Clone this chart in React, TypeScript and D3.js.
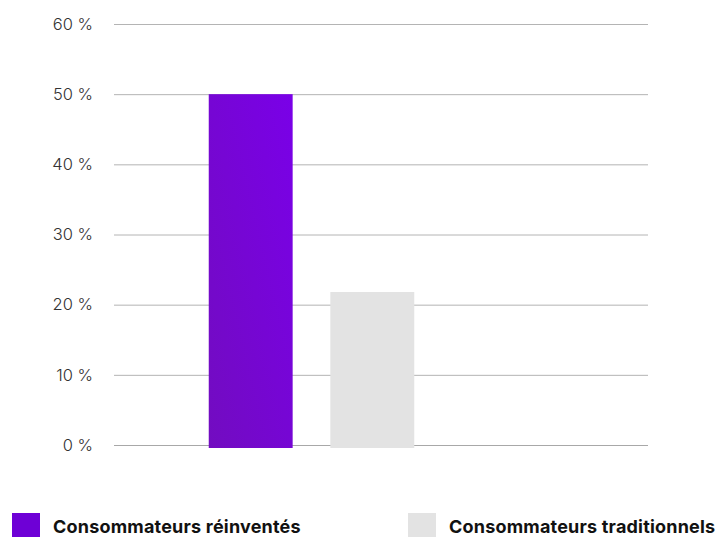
import React from "react";
import * as d3 from "d3";

const categories = ["Consommateurs réinventés", "Consommateurs traditionnels"];
const values = [50, 21.8];
const colors = ["url(#purpleGrad)", "#e3e3e3"];
const legendColors = ["#6e00d6", "#e3e3e3"];
const ticks = [0, 10, 20, 30, 40, 50, 60];

export default function App() {
  const W = 722, H = 537;
  const y = d3.scaleLinear().domain([0, 60]).range([445, 24]);
  const x = d3.scaleBand().domain(categories).range([190.5, 432.5]).paddingInner(0.31).paddingOuter(0.15);
  const font = "Inter, 'Noto Sans', sans-serif";
  return (
    <svg width={W} height={H} style={{ position: "absolute", left: 0, top: 0 }}>
      <defs>
        <linearGradient id="purpleGrad" x1="0" y1="1" x2="1" y2="0">
          <stop offset="0%" stopColor="#720cc0" />
          <stop offset="100%" stopColor="#7a00e8" />
        </linearGradient>
      </defs>
      {ticks.map((t) => (
        <g key={t}>
          <line x1={114} x2={648} y1={y(t) + 0.5} y2={y(t) + 0.5} stroke={t === 0 ? "#a8a8a8" : "#b4b4b4"} strokeWidth={1} />
          <text x={93} y={y(t)} dy="0.35em" textAnchor="end" fontFamily={font} fontSize={16.5} fill="#333" fontWeight={300}>
            {t} %
          </text>
        </g>
      ))}
      {categories.map((c, i) => (
        <rect key={c} x={x(c)} width={x.bandwidth()} y={y(values[i])} height={y(0) - y(values[i]) + 3} fill={colors[i]} />
      ))}
      {categories.map((c, i) => {
        const lx = i === 0 ? 12 : 408;
        return (
          <g key={c}>
            <rect x={lx} y={513} width={28} height={24} fill={legendColors[i]} />
            <text x={lx + 41} y={533} fontFamily={font} fontSize={18} fontWeight={700} fill="#111" letterSpacing={0.2}>
              {c}
            </text>
          </g>
        );
      })}
    </svg>
  );
}
